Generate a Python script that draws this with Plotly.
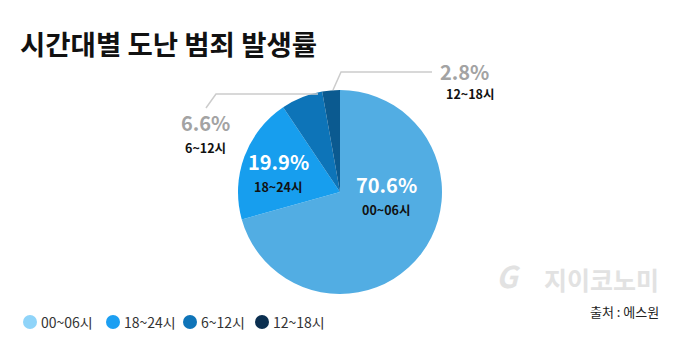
import plotly.graph_objects as go

# ---- data ----
labels = ["00~06시", "18~24시", "6~12시", "12~18시"]
values = [70.6, 19.9, 6.6, 2.8]
pct_text = ["70.6%", "19.9%", "6.6%", "2.8%"]
slice_colors = ["#52ade3", "#179eee", "#0d74b8", "#0b5a90"]
legend_colors = ["#8fd4f9", "#1c9ff2", "#0f74b8", "#0b2f50"]

W, H = 680, 351
FONT = "Noto Sans CJK KR"

def px(x, y):
    return x / W, 1 - y / H

cx, cy, r = 340, 192, 102
dx0, dy0 = px(cx - r, cy + r)
dx1, dy1 = px(cx + r, cy - r)

fig = go.Figure()
fig.add_trace(go.Pie(
    labels=labels, values=values, sort=False, direction="clockwise", rotation=0,
    marker=dict(colors=slice_colors, line=dict(width=0)),
    textinfo="none", hoverinfo="label+percent", showlegend=False,
    domain=dict(x=[dx0, dx1], y=[dy0, dy1]),
))

annotations = []
shapes = []
# title
tx, ty = px(18, 43)
annotations.append(dict(x=tx, y=ty, xref="paper", yref="paper", xanchor="left", yanchor="middle",
                        text="<b>시간대별 도난 범죄 발생률</b>", showarrow=False,
                        font=dict(family=FONT, size=27.5, color="#111111")))

# label positions (pixel anchor) for pct / name per slice, with x-anchor
label_pos = [((386, 184), (386, 209), "white", "center"),
             ((278, 161), (278, 187), "white", "center"),
             ((205, 123), (205, 147), "#a3a3a3", "center"),
             ((438, 55), (444, 82), "#a3a3a3", "left")]
for i, (p1, p2, pcol, anc) in enumerate(label_pos):
    x1, y1 = px(*p1)
    x2, y2 = px(*p2)
    annotations.append(dict(x=x1, y=y1, xref="paper", yref="paper", showarrow=False, xanchor=anc,
                            text=f"<b>{pct_text[i]}</b>",
                            font=dict(family=FONT, size=20, color=pcol)))
    annotations.append(dict(x=x2, y=y2, xref="paper", yref="paper", showarrow=False, xanchor=anc,
                            text=f"<b>{labels[i]}</b>",
                            font=dict(family=FONT, size=12.5, color="#111111")))

# custom legend (circles + texts)
leg_circle_x = [30, 113, 190, 262]
leg_y = 322
for i, lab in enumerate(labels):
    c = leg_circle_x[i]
    X0, Y0 = px(c - 7, leg_y + 7)
    X1, Y1 = px(c + 7, leg_y - 7)
    shapes.append(dict(type="circle", xref="paper", yref="paper", x0=X0, y0=Y0, x1=X1, y1=Y1,
                       fillcolor=legend_colors[i], line=dict(width=0)))
    lx, ly = px(c + 9, leg_y)
    annotations.append(dict(x=lx, y=ly, xref="paper", yref="paper", showarrow=False,
                            xanchor="left", yanchor="middle", text=lab,
                            font=dict(family=FONT, size=14, color="#333333")))

# watermark and source
wx, wy = px(661, 299)
annotations.append(dict(x=wx, y=wy, xref="paper", yref="paper", showarrow=False, xanchor="right",
                        text="<b>지이코노미</b>",
                        font=dict(family=FONT, size=25, color="#e2e2e2")))
gx, gy = px(523, 299)
annotations.append(dict(x=gx, y=gy, xref="paper", yref="paper", showarrow=False,
                        text="<b><i>G</i></b>",
                        font=dict(family=FONT, size=30, color="#e2e2e2")))
sx, sy = px(661, 323)
annotations.append(dict(x=sx, y=sy, xref="paper", yref="paper", showarrow=False, xanchor="right",
                        text="출처 : 에스원",
                        font=dict(family=FONT, size=13, color="#222222")))

# leader lines
def path(pts):
    s = ""
    for k, (x, y) in enumerate(pts):
        X, Y = px(x, y)
        s += ("M" if k == 0 else " L") + f" {X:.4f} {Y:.4f}"
    return s

shapes += [
    dict(type="path", xref="paper", yref="paper", path=path([(333, 90), (341, 72), (432, 72)]),
         line=dict(color="#cccccc", width=1.5)),
    dict(type="path", xref="paper", yref="paper", path=path([(206, 108), (216, 94), (318, 94)]),
         line=dict(color="#cccccc", width=1.5)),
]

fig.update_layout(
    width=W, height=H, margin=dict(l=0, r=0, t=0, b=0),
    paper_bgcolor="white", plot_bgcolor="white",
    annotations=annotations, shapes=shapes,
    showlegend=False,
    font=dict(family=FONT),
)

fig.write_html("out.html")
